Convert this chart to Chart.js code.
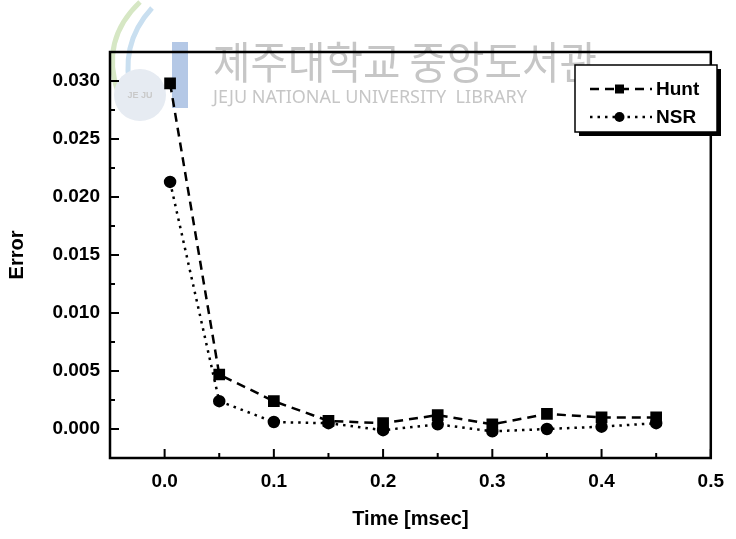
<!DOCTYPE html>
<html lang="ko">
<head>
  <meta charset="UTF-8">
  <title>Error - Time</title>
  <script src="https://cdn.jsdelivr.net/npm/chart.js"></script>
  <style>
    html, body { margin: 0; padding: 0; background: white; }
    canvas { display: block; }
  </style>
</head>
<body>
<canvas id="errorChart" width="736" height="539"></canvas>

<script>
  // data
  const timeValues = [0.005, 0.05, 0.1, 0.15, 0.2, 0.25, 0.3, 0.35, 0.4, 0.45];
  const huntError = [0.0298, 0.0047, 0.0024, 0.0007, 0.0005, 0.0012, 0.0004, 0.0013, 0.0010, 0.0010];
  const nsrError  = [0.0213, 0.0024, 0.0006, 0.0005, -0.0001, 0.0004, -0.0002, 0.0000, 0.0002, 0.0005];

  const xTickValues = [0.0, 0.1, 0.2, 0.3, 0.4, 0.5];
  const xMinorTicks = [0.05, 0.15, 0.25, 0.35, 0.45];
  const yTickValues = [0.000, 0.005, 0.010, 0.015, 0.020, 0.025, 0.030];
  const yMinorTicks = [0.0025, 0.0075, 0.0125, 0.0175, 0.0225, 0.0275];

  const seriesNames = ["Hunt", "NSR"];

  // pale library watermark behind the plot
  const watermark = {
    id: "watermark",
    beforeDraw(chart) {
      const c = chart.ctx;
      c.save();
      // logo swooshes
      c.lineWidth = 5;
      c.strokeStyle = "#d6e7c4";
      c.beginPath();
      c.moveTo(140, 2);
      c.quadraticCurveTo(100, 40, 118, 92);
      c.stroke();
      c.strokeStyle = "#c9dff0";
      c.beginPath();
      c.moveTo(152, 8);
      c.quadraticCurveTo(118, 45, 132, 96);
      c.stroke();
      c.fillStyle = "#e6ebf2";
      c.beginPath();
      c.arc(140, 95, 26, 0, Math.PI * 2);
      c.fill();
      c.fillStyle = "#b4c8e6";
      c.fillRect(172, 42, 16, 66);
      c.fillStyle = "#c9c9c9";
      c.font = "bold 9px 'Liberation Sans'";
      c.textAlign = "center";
      c.fillText("JE JU", 140, 98);

      c.textAlign = "left";
      c.textBaseline = "middle";
      c.fillStyle = "#c6c6c6";
      c.font = "44px 'Noto Sans CJK KR'";
      c.fillText("제주대학교 중앙도서관", 213, 62, 384);
      c.font = "18px 'Noto Sans'";
      c.fillText("JEJU NATIONAL UNIVERSITY  LIBRARY", 213, 98, 384);
      c.restore();
    }
  };

  // box round the plot and inward tick marks
  const frame = {
    id: "frame",
    afterDraw(chart) {
      const c = chart.ctx;
      const a = chart.chartArea;
      const xs = chart.scales.x, ys = chart.scales.y;
      c.save();
      c.strokeStyle = "black";
      c.lineWidth = 2.5;
      c.strokeRect(a.left, a.top, a.right - a.left, a.bottom - a.top);
      c.lineWidth = 2;
      c.beginPath();
      xTickValues.forEach(v => {
        const px = xs.getPixelForValue(v);
        c.moveTo(px, a.bottom); c.lineTo(px, a.bottom - 9);
      });
      xMinorTicks.forEach(v => {
        const px = xs.getPixelForValue(v);
        c.moveTo(px, a.bottom); c.lineTo(px, a.bottom - 5);
      });
      yTickValues.forEach(v => {
        const py = ys.getPixelForValue(v);
        c.moveTo(a.left, py); c.lineTo(a.left + 9, py);
      });
      yMinorTicks.forEach(v => {
        const py = ys.getPixelForValue(v);
        c.moveTo(a.left, py); c.lineTo(a.left + 5, py);
      });
      c.stroke();
      c.restore();
    }
  };

  // legend box with drop shadow
  const boxLegend = {
    id: "boxLegend",
    afterDraw(chart) {
      const c = chart.ctx;
      const bx = 575, by = 65, bw = 142, bh = 67;
      c.save();
      c.fillStyle = "black";
      c.fillRect(bx + 4, by + 4, bw, bh);
      c.fillStyle = "white";
      c.fillRect(bx, by, bw, bh);
      c.strokeStyle = "black";
      c.lineWidth = 1.5;
      c.strokeRect(bx, by, bw, bh);

      chart.data.datasets.forEach((ds, i) => {
        const y = by + 24 + i * 28;
        c.strokeStyle = "black";
        c.lineWidth = ds.borderWidth;
        c.setLineDash(ds.borderDash);
        c.beginPath();
        c.moveTo(590, y); c.lineTo(652, y);
        c.stroke();
        c.setLineDash([]);
        c.fillStyle = "black";
        c.beginPath();
        if (ds.pointStyle === "rect") {
          c.rect(615, y - 4.5, 9, 9);
        } else {
          c.arc(619.5, y, 5, 0, Math.PI * 2);
        }
        c.fill();
        c.font = "bold 19px 'Liberation Sans'";
        c.textBaseline = "middle";
        c.textAlign = "left";
        c.fillText(ds.label, 656, y + 1);
      });
      c.restore();
    }
  };

  const tickFont = { family: "'Liberation Sans', Arial, sans-serif", size: 19, weight: "bold" };
  const titleFont = { family: "'Liberation Sans', Arial, sans-serif", size: 20, weight: "bold" };

  new Chart(document.getElementById("errorChart"), {
    type: "line",
    data: {
      datasets: [
        {
          label: seriesNames[0],
          data: timeValues.map((t, i) => ({ x: t, y: huntError[i] })),
          borderColor: "black",
          backgroundColor: "black",
          borderWidth: 2.5,
          borderDash: [9, 6],
          pointStyle: "rect",
          pointRadius: 6.5,
          fill: false,
          tension: 0
        },
        {
          label: seriesNames[1],
          data: timeValues.map((t, i) => ({ x: t, y: nsrError[i] })),
          borderColor: "black",
          backgroundColor: "black",
          borderWidth: 2.5,
          borderDash: [2.5, 5],
          pointStyle: "circle",
          pointRadius: 5,
          fill: false,
          tension: 0
        }
      ]
    },
    options: {
      responsive: false,
      animation: false,
      layout: { padding: { top: 52, right: 14, left: 0, bottom: 0 } },
      plugins: {
        legend: { display: false },
        tooltip: { enabled: false }
      },
      scales: {
        x: {
          type: "linear",
          min: -0.05,
          max: 0.5,
          afterBuildTicks: s => { s.ticks = xTickValues.map(v => ({ value: v })); },
          afterFit: s => { s.height = 81; },
          grid: { display: false, drawTicks: false },
          border: { display: false },
          ticks: {
            color: "black",
            font: tickFont,
            padding: 12,
            maxRotation: 0,
            callback: v => Number(v).toFixed(1)
          },
          title: {
            display: true,
            text: "Time [msec]",
            color: "black",
            font: titleFont,
            padding: { top: 0, bottom: 8 }
          }
        },
        y: {
          min: -0.0025,
          max: 0.0325,
          afterBuildTicks: s => { s.ticks = yTickValues.map(v => ({ value: v })); },
          afterFit: s => { s.width = 110; },
          grid: { display: false, drawTicks: false },
          border: { display: false },
          ticks: {
            color: "black",
            font: tickFont,
            padding: 10,
            callback: v => Number(v).toFixed(3)
          },
          title: {
            display: true,
            text: "Error",
            color: "black",
            font: titleFont,
            padding: { top: 5, bottom: 0 }
          }
        }
      }
    },
    plugins: [watermark, frame, boxLegend]
  });
</script>
</body>
</html>
